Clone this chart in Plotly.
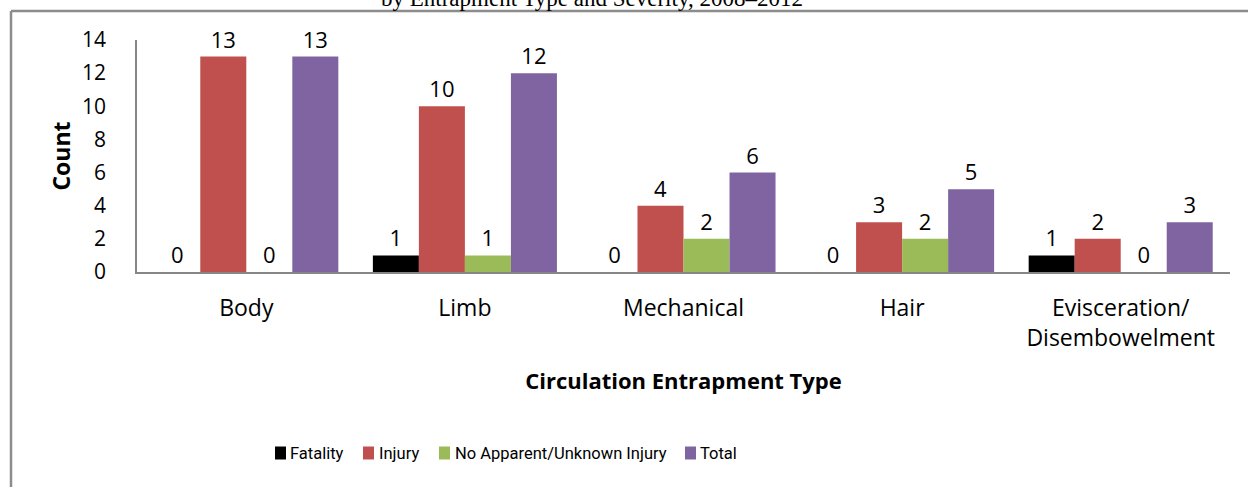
import plotly.graph_objects as go

categories = ["Body", "Limb", "Mechanical", "Hair", "Evisceration/<br>Disembowelment"]
fatality = [0, 1, 0, 0, 1]
injury = [13, 10, 4, 3, 2]
no_apparent = [0, 1, 2, 2, 0]
total = [13, 12, 6, 5, 3]
y_ticks = [0, 2, 4, 6, 8, 10, 12, 14]

series_names = ["Fatality", "Injury", "No Apparent/Unknown Injury", "Total"]
series_values = [fatality, injury, no_apparent, total]
series_colors = ["#000000", "#C0504D", "#9BBB59", "#8064A2"]

FONT = "Open Sans"
W, H = 1248, 487
L, R, T, B = 137, 18, 40, 215
pw, ph = W - L - R, H - T - B

def px_x(p):
    return (p - L) / pw

def px_y(p):
    return (H - B - p) / ph

fig = go.Figure()
for name, vals, col in zip(series_names, series_values, series_colors):
    fig.add_trace(go.Bar(
        name=name, x=categories, y=vals, marker_color=col,
        marker_line_width=0,
        text=[str(v) for v in vals], textposition="outside",
        textfont=dict(family=FONT, size=22, color="#000000"),
        cliponaxis=False, showlegend=False, hoverinfo="skip",
    ))

fig.update_layout(
    width=W, height=H,
    margin=dict(l=L, r=R, t=T, b=B, autoexpand=False),
    paper_bgcolor="white", plot_bgcolor="white",
    barmode="group", bargap=0.158, bargroupgap=0,
    font=dict(family=FONT, size=21, color="#000000"),
    showlegend=False,
    xaxis=dict(showline=True, linecolor="#868686", linewidth=2, ticks="",
               tickfont=dict(family=FONT, size=23), ticklabelstandoff=14,
               title=dict(text="<b>Circulation Entrapment Type</b>", font=dict(family=FONT, size=22), standoff=22)),
    yaxis=dict(range=[0, 14], tickvals=y_ticks, showline=True, linecolor="#868686", linewidth=1.5,
               showgrid=False, zeroline=False, ticks="", ticklabelstandoff=25,
               tickfont=dict(family=FONT, size=21),
               title=dict(text="<b>Count</b>", font=dict(family=FONT, size=23), standoff=5)),
)

# legend (drawn as squares + labels, matching the reference's compact layout)
leg_square_x = [275, 363, 439, 685]
leg_text_x = [288, 377, 453, 698]
leg_y = 453
for name, col, sx, tx in zip(series_names, series_colors, leg_square_x, leg_text_x):
    fig.add_shape(type="rect", xref="paper", yref="paper",
                  x0=px_x(sx), x1=px_x(sx + 11), y0=px_y(leg_y - 6.5), y1=px_y(leg_y + 6.5),
                  fillcolor=col, line_width=0)
    fig.add_annotation(text=name, xref="paper", yref="paper", x=px_x(tx), y=px_y(leg_y),
                       xanchor="left", yanchor="middle", showarrow=False,
                       font=dict(family="Roboto", size=16.5, color="#000000"))

fig.add_annotation(text="by Entrapment Type and Severity, 2008\u20132012", xref="paper", yref="paper",
                   x=px_x(592), y=px_y(13), xanchor="center", yanchor="bottom", showarrow=False,
                   font=dict(family="Liberation Serif", size=23, color="#000000"))

line = dict(color="#8c8c8c", width=2.5)
fig.add_shape(type="line", xref="paper", yref="paper", x0=px_x(11), x1=px_x(1260), y0=px_y(11), y1=px_y(11), line=line)
fig.add_shape(type="line", xref="paper", yref="paper", x0=px_x(11), x1=px_x(11), y0=px_y(11), y1=px_y(500), line=line)

fig.write_html("out.html", config={"displayModeBar": False},
               post_script="document.body.style.margin='0';document.body.style.overflow='hidden';")
